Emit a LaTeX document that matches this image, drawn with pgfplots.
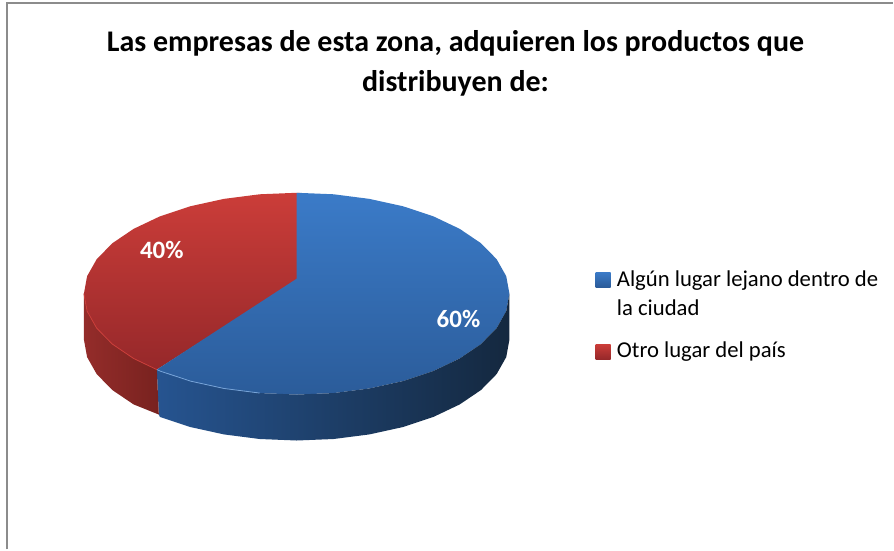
\documentclass[border=0pt]{standalone}
\usepackage{fontspec}
\setmainfont{Carlito}
\usepackage{pgfplots}
\pgfplotsset{compat=1.18}
\definecolor{blueTop}{HTML}{3B7BC8}
\definecolor{blueBot}{HTML}{2B5C9A}
\definecolor{redTop}{HTML}{CB3D39}
\definecolor{redBot}{HTML}{96282A}
\definecolor{blueSideL}{HTML}{265490}
\definecolor{blueSideM}{HTML}{17324F}
\definecolor{blueSideR}{HTML}{14283F}
\definecolor{redSideL}{HTML}{942C2A}
\definecolor{redSideR}{HTML}{78221F}
\definecolor{frameGray}{HTML}{8C8C8C}
\begin{document}
\begin{tikzpicture}
\begin{axis}[
  width=894pt, height=550pt, scale only axis,
  xmin=0, xmax=894, ymin=0, ymax=550, y dir=reverse,
  hide axis, clip=false,
  legend style={
    at={(axis cs:596,269)}, anchor=north west,
    draw=none, fill=none,
    font=\fontsize{22.7}{29}\selectfont,
    row sep=21pt,
    inner sep=0pt,
    cells={align=left, anchor=base west},
  },
  legend cell align=left,
]
\path (axis cs:0,0) (axis cs:894,550);
% top face, 40 % share (red); runs a little under the blue one so no seam shows
\addplot[draw=none, top color=redTop, bottom color=redBot, forget plot] coordinates {
  (300,279) (157,370) (133.8,358.9) (112.5,344.5) (96.8,328.5) (87.2,311.5)
  (84,294) (87.2,276.5) (96.8,259.5) (112.5,243.5) (133.8,229.1) (160.1,216.6)
  (190.5,206.5) (224.2,199.1) (260,194.5) (297,193) (300,193)
} -- cycle;
% top face, 60 % share (blue), points in px
\addplot[draw=none, top color=blueTop, bottom color=blueBot, forget plot] coordinates {
  (297,279) (297,193) (334,194.5) (369.8,199.1) (403.5,206.5) (433.9,216.6)
  (460.2,229.1) (481.5,243.5) (497.2,259.5) (506.8,276.5) (510,294)
  (506.8,311.5) (497.2,328.5) (481.5,344.5) (460.2,358.9) (433.9,371.4)
  (403.5,381.5) (369.8,388.9) (334,393.5) (297,395) (260,393.5) (224.2,388.9)
  (190.5,381.5) (160.1,371.4) (157,370)
} -- cycle;
% side walls
\addplot[draw=none, forget plot, left color=blueSideL, middle color=blueSideM, right color=blueSideR] coordinates {
  (510,294) (506.8,311.5) (497.2,328.5) (481.5,344.5) (460.2,358.9) (433.9,371.4)
  (403.5,381.5) (369.8,388.9) (334,393.5) (297,395) (260,393.5) (224.2,388.9)
  (190.5,381.5) (160.1,371.4) (157,370)
  (159,415) (160.1,417.4) (190.5,427.5) (224.2,434.9) (260,439.5) (297,441)
  (334,439.5) (369.8,434.9) (403.5,427.5) (433.9,417.4) (460.2,404.9)
  (481.5,390.5) (497.2,374.5) (506.8,357.5) (510,340)
} -- cycle;
\addplot[draw=none, forget plot, left color=redSideL, right color=redSideR] coordinates {
  (157,370) (133.8,358.9) (112.5,344.5) (96.8,328.5) (87.2,311.5) (84,294)
  (84,340) (87.2,357.5) (96.8,374.5) (112.5,390.5) (133.8,404.9) (159,415)
} -- cycle;
% light rim on the front edge of the top face
\addplot[blueTop!70!white, line width=0.8pt, forget plot] coordinates {
  (157,370) (160.1,371.4) (190.5,381.5) (224.2,388.9) (260,393.5)};
\addplot[redTop, line width=0.8pt, forget plot] coordinates {
  (157,370) (133.8,358.9) (112.5,344.5) (96.8,328.5) (87.2,311.5) (84,294)};
\addlegendimage{legend image code/.code={
  \path (0pt,0pt) (19pt,0pt);
  \shade[draw=none, top color=blueTop, bottom color=blueBot] (0pt,7pt) rectangle (15pt,22pt);}}
\addlegendentry{Algún lugar lejano dentro de\\la ciudad}
\addlegendimage{legend image code/.code={
  \path (0pt,0pt) (19pt,0pt);
  \shade[draw=none, top color=redTop, bottom color=redBot] (0pt,-8.5pt) rectangle (15pt,6.5pt);}}
\addlegendentry{Otro lugar del país}
% frame of the chart area
\addplot[frameGray, line width=2pt, forget plot] coordinates {(7.5,550) (7.5,3.5) (894,3.5)};
\node[white, font=\fontsize{25}{30}\bfseries\selectfont] at (axis cs:162,250) {40\%};
\node[white, font=\fontsize{25}{30}\bfseries\selectfont] at (axis cs:459,319) {60\%};
\node[align=center, font=\fontsize{30}{40}\bfseries\selectfont] at (axis cs:456,63)
  {Las empresas de esta zona, adquieren los productos que\\distribuyen de:};
\end{axis}
\end{tikzpicture}
\end{document}
